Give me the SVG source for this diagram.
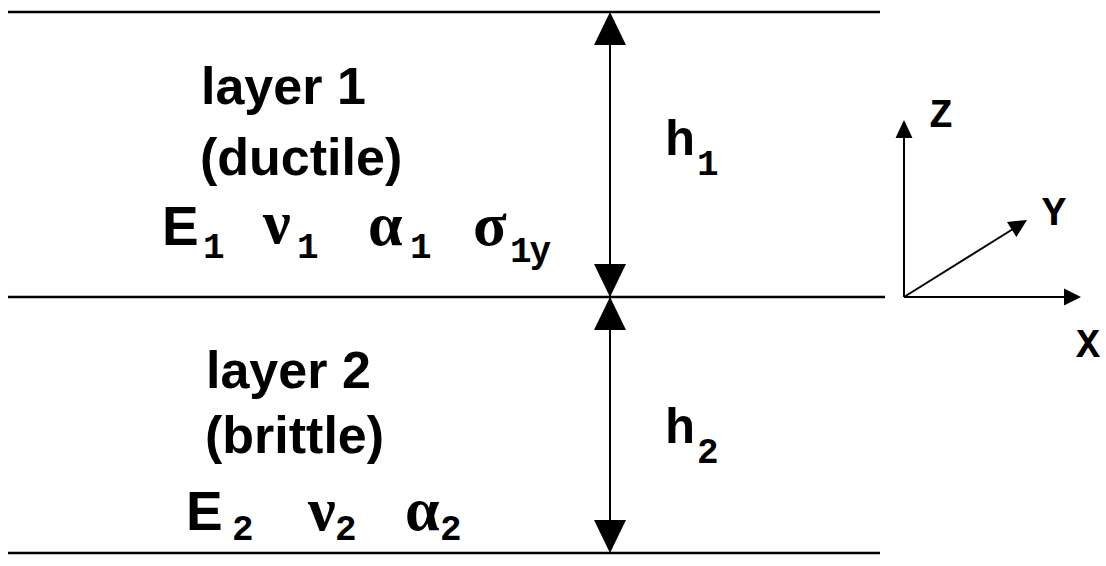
<svg xmlns="http://www.w3.org/2000/svg" width="1106" height="566" viewBox="0 0 1106 566">
<style>
.line{stroke:#000;stroke-width:2.5;fill:none}
.thin{stroke:#000;stroke-width:2;fill:none}
.head{fill:#000;stroke:none}
.lbl{font-family:"Liberation Sans",Arial,sans-serif;font-weight:bold;font-size:52px;fill:#000}
.big{font-family:"Liberation Sans",Arial,sans-serif;font-weight:bold;font-size:55px;fill:#000}
.gr{font-family:"Liberation Serif","Times New Roman",serif;font-weight:bold;font-size:62px;fill:#000}
.sub{font-family:"Liberation Mono","Courier New",monospace;font-weight:bold;font-size:36px;fill:#000}
.mono{font-family:"Liberation Mono","Courier New",monospace;font-weight:bold;font-size:50px;fill:#000}
.ax{font-family:"Liberation Mono","Courier New",monospace;font-weight:bold;font-size:40px;fill:#000}
</style>
<rect width="1106" height="566" fill="#fff"/>
<g id="layers">
<line class="line" x1="8" y1="12" x2="880" y2="12"/>
<line class="line" x1="8" y1="297" x2="885" y2="297"/>
<line class="line" x1="8" y1="553" x2="880" y2="553"/>
</g>
<g id="connectors">
<line class="thin" x1="610" y1="30" x2="610" y2="535"/>
<polygon class="head" points="610,12 594,45 626,45"/>
<polygon class="head" points="610,297 594,264 626,264"/>
<polygon class="head" points="610,297 594,330 626,330"/>
<polygon class="head" points="610,553 594,520 626,520"/>
<line class="thin" x1="904" y1="297" x2="904" y2="135"/>
<polygon class="head" points="904,120 895.5,138 912.5,138"/>
<line class="thin" x1="904" y1="297" x2="1066" y2="297"/>
<polygon class="head" points="1081,297 1064,288.5 1064,305.5"/>
<line class="thin" x1="904" y1="297" x2="1013" y2="229"/>
<polygon class="head" points="1027,220 1016.4,237.1 1007.0,221.9"/>
</g>
<g id="layer1">
<text class="lbl" x="201" y="104">layer 1</text>
<text class="lbl" x="200" y="175">(ductile)</text>
<text class="big" x="162" y="245">E</text>
<text class="sub" x="203" y="258">1</text>
<text class="gr" x="263" y="243">ν</text>
<text class="sub" x="297" y="258">1</text>
<text class="gr" x="368" y="245">α</text>
<text class="sub" x="410" y="258">1</text>
<text class="gr" x="473" y="245">σ</text>
<text class="sub" x="510" y="262" letter-spacing="-2">1y</text>
</g>
<g id="layer2">
<text class="lbl" x="206" y="388">layer 2</text>
<text class="lbl" x="205" y="453">(brittle)</text>
<text class="big" x="186" y="530">E</text>
<text class="sub" x="232" y="540">2</text>
<text class="gr" x="308" y="530">ν</text>
<text class="sub" x="335" y="540">2</text>
<text class="gr" x="405" y="530">α</text>
<text class="sub" x="440" y="540">2</text>
</g>
<g id="h1">
<text class="mono" x="665" y="155">h</text>
<text class="sub" x="697" y="175">1</text>
</g>
<g id="h2">
<text class="mono" x="665" y="443">h</text>
<text class="sub" x="697" y="463">2</text>
</g>
<g id="axes-labels">
<text class="ax" x="929" y="127">Z</text>
<text class="ax" x="1042" y="225">Y</text>
<text class="ax" x="1076" y="357">X</text>
</g>
</svg>
